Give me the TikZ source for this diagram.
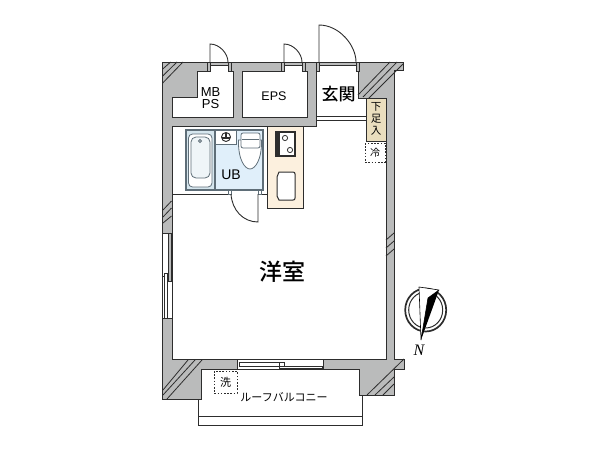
\documentclass[tikz,border=0pt]{standalone}
\usepackage{fontspec}
\setmainfont{Liberation Sans}
\newfontfamily\jpfont{Noto Sans CJK JP}
\newfontfamily\jpbold{Noto Sans CJK JP Medium}
\newfontfamily\serifit{Liberation Serif}
\usepackage{xcolor}
\definecolor{wallgray}{RGB}{186, 187, 187}
\definecolor{inkdark}{RGB}{45, 45, 45}
\definecolor{bathblue}{RGB}{224, 239, 250}
\definecolor{tubgray}{RGB}{214, 230, 238}
\definecolor{bathedge}{RGB}{95, 110, 120}
\definecolor{kitchencream}{RGB}{252, 240, 222}
\definecolor{shoetan}{RGB}{234, 222, 190}

\begin{document}
\begin{tikzpicture}[x=1pt, y=-1pt,
    wall/.style={draw=inkdark, fill=wallgray, line width=1pt, line join=miter},
    hole/.style={draw=inkdark, fill=white, line width=1pt},
    hatch/.style={draw=inkdark, line width=0.8pt},
    jamb/.style={draw=inkdark, fill=wallgray, line width=0.7pt},
    sash/.style={draw=inkdark, fill=white, line width=0.8pt},
    doorleaf/.style={draw=inkdark, line width=0.9pt},
    fixture/.style={draw=bathedge, line width=0.8pt},
    dashbox/.style={draw=inkdark, line width=0.9pt, dash pattern=on 1.6pt off 1.6pt},
    jplabel/.style={inner sep=0pt, font=\jpfont\fontsize{#1}{#1}\selectfont, text=black},
    jpheavy/.style={inner sep=0pt, font=\jpbold\fontsize{#1}{#1}\selectfont, text=black},
    latlabel/.style={inner sep=0pt, align=center, font=\fontsize{#1}{#1}\selectfont, text=black}]
    \useasboundingbox (0,0) rectangle (600,450);

    % Balcony
    \draw[inkdark, line width=1pt] (198,399) -- (198,425) -- (362,425) -- (362,395);
    \draw[inkdark, line width=1pt] (198,416) -- (362,416);
    \draw[inkdark, line width=1pt] (198,398.5) -- (201,398.5);

    % Walls
    \draw[wall] (162,62) -- (403,62) -- (403,70) -- (394,70) -- (394,359) -- (404,359) -- (404,369)
        -- (394,369) -- (394,395) -- (359,395) -- (359,369) -- (201,369) -- (201,399) -- (162,399) -- cycle;

    % Rooms
    \draw[hole] (172,126) -- (316,126) -- (316,71) -- (358,71) -- (358,98) -- (386,98) -- (386,359) -- (172,359) -- cycle;
    \draw[hole] (197,71) -- (233,71) -- (233,117) -- (172,117) -- (172,97) -- (197,97) -- cycle;
    \draw[hole] (242,71) rectangle (307,117);

    % Hatching
    \foreach \ax/\ay/\bx/\by in {162.7/69/170.7/62, 162.7/76/177/62, 162.7/83/183/62,
        358/95/390/62, 363/97/397/62, 368/99/403/64,
        163/390/188/360, 163/395/195/360, 167/399/202/360,
        367/395/404/359, 375/395/394/377, 383/395/394/384,
        386/240/394/233, 386/248/394/241, 386/256/394/249,
        163/210/171.5/201, 163/217/171.5/208, 163/223/171.5/216}
        \draw[hatch] (\ax,\ay) -- (\bx,\by);

    % Doors
    \foreach \lx/\rx/\ty in {210/228/44, 284/302/44, 319/356/25} {
        \fill[white] (\lx,65) rectangle (\rx,71.5);
        \draw[inkdark, line width=0.7pt] (\lx,65) -- (\rx,65);
        \draw[jamb] (\lx-3,62) rectangle (\lx,71);
        \draw[jamb] (\rx,62) rectangle (\rx+3,71);
        \draw[doorleaf] (\lx,62) -- (\lx,\ty) .. controls (\lx+0.55*\rx-0.55*\lx,\ty) and (\rx,62-0.45*62+0.45*\ty) .. (\rx,62);
    }

    % Genkan step
    \draw[inkdark, line width=0.9pt] (316,116) -- (366,116);
    \draw[inkdark, line width=0.9pt] (316,120) -- (366,120);

    % Left window
    \fill[white] (162.5,233) rectangle (171.5,318);
    \draw[inkdark, line width=0.9pt] (162,233) -- (172,233) (162,318) -- (172,318) (162,276) -- (172,276)
        (162,233) -- (162,318) (172,233) -- (172,318);
    \draw[sash, fill=wallgray] (168,233) rectangle (171,281);
    \draw[sash, fill=white] (164,273) rectangle (167,318);

    % Bottom window
    \fill[white] (237,360) rectangle (323,369);
    \draw[inkdark, line width=1pt] (237,359) -- (237,369) (323,359) -- (323,369);
    \draw[sash] (239,362.5) rectangle (284,366);
    \draw[sash] (279,366) rectangle (322,368.5);
    \draw[inkdark, line width=1pt] (279.5,362) -- (279.5,369);
    \draw[inkdark, line width=1pt] (237,369) -- (323,369);

    % Unit bath
    \draw[inkdark, line width=0.9pt] (172,194) -- (228,194) (258,194) -- (267,194);
    \draw[bathedge, fill=bathblue, line width=1.1pt] (186,130) rectangle (263,190);
    \draw[bathedge, fill=tubgray, line width=1.1pt] (186,130) rectangle (215,190);
    \draw[fixture, fill=white, rounded corners=4pt] (188.5,134) rectangle (212,187);
    \draw[fixture, fill=tubgray!40, rounded corners=5pt] (191,137) rectangle (210,178);
    \draw[fixture] (200,141) circle (1.5);
    \draw[bathedge, fill=white, line width=0.9pt] (215,130) rectangle (236,144);
    \draw[inkdark, fill=white, line width=0.9pt] (226,137) circle (4.5);
    \draw[inkdark, line width=1.2pt] (226,133) -- (226,137) (222,138) -- (230,138);
    \draw[fixture, fill=white] (238.5,140) .. controls (238,160) and (245,169) .. (250,169) .. controls (255,169) and (262,160) .. (261.5,140) -- cycle;
    \draw[fixture, fill=white, rounded corners=2pt] (241,133) rectangle (260,148);
    \draw[fixture] (242,139) -- (259,139);
    \draw[bathedge, fill=white, line width=0.7pt] (228,190) rectangle (231,194);
    \draw[bathedge, fill=white, line width=0.7pt] (258,190) rectangle (261,194);
    \draw[doorleaf] (258,194) -- (258,222) .. controls (243,222) and (232,210) .. (231,194);

    % Kitchen
    \draw[inkdark, fill=kitchencream, line width=1pt] (267,126) rectangle (303,208);
    \draw[inkdark, fill=white, line width=1.3pt] (276,132) rectangle (295,156);
    \fill[inkdark] (276,132) rectangle (280,156);
    \draw[inkdark, line width=0.8pt] (285,138) circle (2.6);
    \draw[inkdark, line width=0.8pt] (290,150) circle (2.6);
    \draw[inkdark, fill=white, line width=1pt] (279,172) -- (293,172) .. controls (294.5,172) and (295,173) .. (295,174) -- (295,198)
        .. controls (295,199.5) and (294.5,200) .. (293,200) -- (279,200) -- (277,196) -- (277,177) -- cycle;

    % Shoe box and appliance spots
    \draw[inkdark, fill=shoetan, line width=0.9pt] (366,98) rectangle (386,141);
    \draw[dashbox] (365,143) rectangle (385,162);
    \draw[dashbox] (214,371) rectangle (237,393);

    % Compass
    \draw[inkdark, line width=1.7pt] (425.7,310) ellipse (20.5 and 21.5);
    \draw[inkdark, line width=1pt] (425.7,310) ellipse (17 and 18);
    \fill[white] (419,287) -- (439,290) -- (421,340) -- cycle;
    \fill[black] (439,290) -- (421,340) -- (428,298) -- cycle;
    \draw[black, line width=0.6pt, line join=round] (421,340) -- (419,287) -- (439,290) -- (428,298) -- (421,340);

    % Labels
    \node[latlabel=13] (mbps) at (210.5,98) {MB\\[-0.5pt]PS};
    \node[latlabel=12.5] (eps) at (274,96) {EPS};
    \node[latlabel=14] (ub) at (231,175) {UB};
    \node[jpheavy=17] (genkan) at (338.5,94) {玄関};
    \node[jpheavy=23] (yoshitsu) at (282,272) {洋室};
    \node[jplabel=10.5, align=center] (shoes) at (376,118.5) {下\\[1.5pt]足\\[1.5pt]入};
    \node[jplabel=10] (fridge) at (375,153) {冷};
    \node[jplabel=11] (washer) at (225.5,382) {洗};
    \node[jplabel=11] (balcony) at (284,397) {ルーフバルコニー};
    \node[inner sep=0pt, font=\serifit\itshape\fontsize{16}{16}\selectfont] (north) at (419,350) {N};
\end{tikzpicture}
\end{document}
